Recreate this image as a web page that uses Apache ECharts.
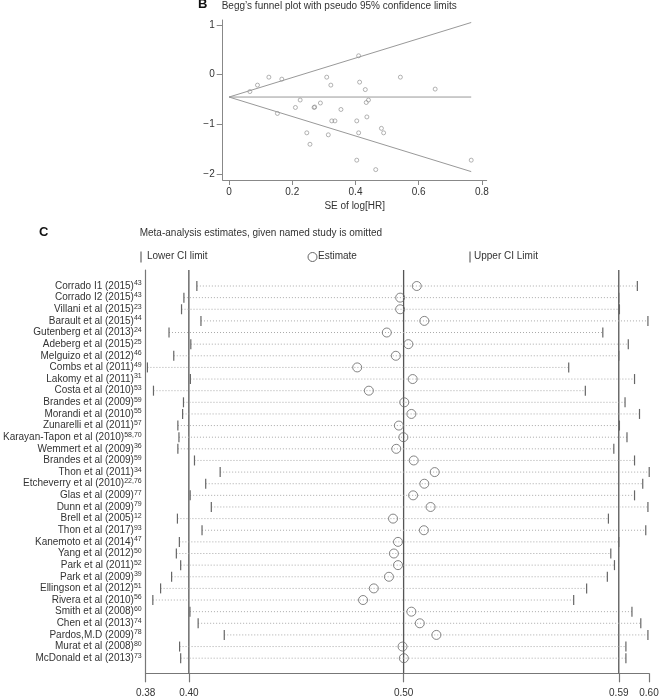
<!DOCTYPE html>
<html><head><meta charset="utf-8">
<script src="https://cdn.jsdelivr.net/npm/echarts@6/dist/echarts.min.js"></script>
<style>html,body{margin:0;padding:0;background:#fff}#c{width:664px;height:699px}</style>
</head><body><div id="c"></div>
<script>
// ---------- Panel B: Begg's funnel plot ----------
const funnelSE = [0.066,0.090,0.126,0.167,0.153,0.210,0.225,0.246,0.256,0.269,0.271,0.289,0.309,0.322,0.314,0.325,0.335,0.354,0.410,0.413,0.431,0.434,0.441,0.436,0.404,0.410,0.482,0.489,0.404,0.464,0.542,0.652,0.766];
const funnelLogHR = [-0.34,-0.21,-0.05,-0.09,-0.78,-0.66,-0.51,-1.17,-1.40,-0.66,-0.65,-0.57,-0.05,-0.21,-1.21,-0.93,-0.93,-0.70,0.38,-0.15,-0.30,-0.56,-0.51,-0.85,-0.93,-1.17,-1.08,-1.17,-1.72,-1.91,-0.05,-0.29,-1.72];
const funnelLimitSE = [0, 0.766];
const funnelPooled = [-0.45, -0.45];
const funnelUpper = [-0.45, 1.05];
const funnelLower = [-0.45, -1.95];
const bXTicks = [0, 0.2, 0.4, 0.6, 0.8];
const bYTicks = [-2, -1, 0, 1];

// ---------- Panel C: influence analysis ----------
const studies = ["Corrado I1 (2015)","Corrado I2 (2015)","Villani et al (2015)","Barault et al (2015)","Gutenberg et al (2013)","Adeberg et al (2015)","Melguizo et al (2012)","Combs et al (2011)","Lakomy et al (2011)","Costa et al (2010)","Brandes et al (2009)","Morandi et al (2010)","Zunarelli et al (2011)","Karayan-Tapon et al (2010)","Wemmert et al (2009)","Brandes et al (2009)","Thon et al (2011)","Etcheverry et al (2010)","Glas et al (2009)","Dunn et al (2009)","Brell et al (2005)","Thon et al (2017)","Kanemoto et al (2014)","Yang et al (2012)","Park et al (2011)","Park et al (2009)","Ellingson et al (2012)","Rivera et al (2010)","Smith et al (2008)","Chen et al (2013)","Pardos,M.D (2009)","Murat et al (2008)","McDonald et al (2013)"];
const refs = ["43","43","23","44","24","25","46","49","31","53","59","55","57","58,70","36","59","34","22,76","77","79","12","93","47","50","52","39","51","56","60","74","78","80","73"];
const lowerCI = [0.4042,0.3982,0.3971,0.4061,0.3913,0.4014,0.3935,0.3813,0.4012,0.3841,0.3980,0.3976,0.3954,0.3959,0.3954,0.4031,0.4150,0.4083,0.4011,0.4109,0.3952,0.4066,0.3961,0.3947,0.3967,0.3925,0.3874,0.3838,0.4010,0.4048,0.4169,0.3962,0.3967];
const estimate = [0.5061,0.4984,0.4984,0.5096,0.4922,0.5022,0.4964,0.4785,0.5042,0.4839,0.5003,0.5036,0.4978,0.4999,0.4966,0.5047,0.5144,0.5096,0.5044,0.5125,0.4951,0.5094,0.4974,0.4955,0.4974,0.4932,0.4862,0.4812,0.5036,0.5075,0.5152,0.4995,0.5001];
const upperCI = [0.6083,0.5997,0.6000,0.6132,0.5923,0.6041,0.5997,0.5765,0.6070,0.5842,0.6026,0.6093,0.6000,0.6035,0.5974,0.6070,0.6138,0.6108,0.6070,0.6132,0.5949,0.6122,0.5997,0.5960,0.5977,0.5944,0.5848,0.5788,0.6058,0.6099,0.6132,0.6030,0.6030];
const overallLines = [0.4005, 0.5000, 0.5997];
const cTickValues = [0.3805, 0.4005, 0.5000, 0.5997, 0.6137];
const cTickLabels = ["0.38", "0.40", "0.50", "0.59", "0.60"];

const FONT = "Liberation Sans, Arial, sans-serif";
const TXT = "#333";
const rowIdx = studies.map((_, i) => i);
const yMinC = -1.376, yMaxC = 33.3;

const chart = echarts.init(document.getElementById('c'), null, {renderer: 'canvas'});

const vLines = overallLines.map(v => ({
  type: 'line', xAxisIndex: 1, yAxisIndex: 1, symbol: 'none', silent: true,
  data: [[v, yMinC], [v, yMaxC]],
  lineStyle: {color: '#555', width: 1.3}, z: 2
}));

const LEG_Y = 257;

const option = {
  animation: false,
  backgroundColor: '#fff',
  textStyle: {fontFamily: FONT},
  grid: [
    {left: 222.7, top: 20, width: 264, height: 160},
    {left: 137.3, top: 270, width: 511.7, height: 403.3}
  ],
  xAxis: [
    {type: 'value', gridIndex: 0, min: -0.02, max: 0.815,
     axisLine: {show: true, onZero: false, lineStyle: {color: '#888', width: 1}},
     axisTick: {show: true, length: 5, customValues: bXTicks, lineStyle: {color: '#888'}},
     axisLabel: {customValues: bXTicks, fontSize: 10, color: TXT, margin: 7, fontFamily: FONT,
                 formatter: v => String(Math.round(v * 10) / 10)},
     splitLine: {show: false},
     name: 'SE of log[HR]', nameLocation: 'middle', nameGap: 21,
     nameTextStyle: {fontSize: 10, color: TXT, fontFamily: FONT}},
    {type: 'value', gridIndex: 1, min: cTickValues[0], max: cTickValues[cTickValues.length - 1],
     axisLine: {show: true, onZero: false, lineStyle: {color: '#777', width: 1.2}},
     axisTick: {show: true, length: 9, customValues: cTickValues, lineStyle: {color: '#777', width: 1.2}},
     axisLabel: {customValues: cTickValues, fontSize: 10, color: TXT, margin: 15, fontFamily: FONT,
                 formatter: v => {
                   let best = 0;
                   cTickValues.forEach((t, i) => { if (Math.abs(t - v) < Math.abs(cTickValues[best] - v)) best = i; });
                   return cTickLabels[best];
                 }},
     splitLine: {show: false}}
  ],
  yAxis: [
    {type: 'value', gridIndex: 0, min: -2.119, max: 1.10,
     axisLine: {show: true, onZero: false, lineStyle: {color: '#888', width: 1}},
     axisTick: {show: true, length: 6, customValues: bYTicks, lineStyle: {color: '#888'}},
     axisLabel: {customValues: bYTicks, fontSize: 10, color: TXT, margin: 8, fontFamily: FONT,
                 formatter: v => v < 0 ? '\u2212' + Math.abs(v) : String(v)},
     splitLine: {show: false}},
    {type: 'value', gridIndex: 1, min: yMinC, max: yMaxC, inverse: true,
     axisLine: {show: true, onZero: false, lineStyle: {color: '#777', width: 1.2}},
     axisTick: {show: false},
     axisLabel: {customValues: rowIdx, margin: 4, fontFamily: FONT,
                 formatter: v => { const i = Math.round(v); return '{n|' + studies[i] + '}{s|' + refs[i] + '}'; },
                 rich: {
                   n: {fontSize: 10, color: TXT, lineHeight: 12, fontFamily: FONT},
                   s: {fontSize: 7, color: TXT, lineHeight: 7, verticalAlign: 'top', fontFamily: FONT}
                 }},
     splitLine: {show: false}}
  ],
  graphic: [
    {type: 'text', left: 198, top: -2, style: {text: 'B', font: 'bold 13px ' + FONT, fill: '#111'}},
    {type: 'text', left: 221.7, top: 1.5, style: {text: 'Begg\u2019s funnel plot with pseudo 95% confidence limits', font: '10px ' + FONT, fill: TXT}},
    {type: 'text', left: 39, top: 226, style: {text: 'C', font: 'bold 13px ' + FONT, fill: '#111'}},
    {type: 'text', left: 139.7, top: 228, style: {text: 'Meta-analysis estimates, given named study is omitted', font: '10px ' + FONT, fill: TXT}},
    {type: 'line', shape: {x1: 141, y1: LEG_Y - 5.5, x2: 141, y2: LEG_Y + 5.5}, style: {stroke: '#666', lineWidth: 1.2}},
    {type: 'text', left: 147, top: LEG_Y - 6, style: {text: 'Lower CI limit', font: '10px ' + FONT, fill: TXT}},
    {type: 'circle', shape: {cx: 312.5, cy: LEG_Y, r: 4.5}, style: {stroke: '#666', fill: 'none', lineWidth: 1}},
    {type: 'text', left: 318, top: LEG_Y - 6, style: {text: 'Estimate', font: '10px ' + FONT, fill: TXT}},
    {type: 'line', shape: {x1: 470, y1: LEG_Y - 5.5, x2: 470, y2: LEG_Y + 5.5}, style: {stroke: '#666', lineWidth: 1.2}},
    {type: 'text', left: 474, top: LEG_Y - 6, style: {text: 'Upper CI Limit', font: '10px ' + FONT, fill: TXT}}
  ],
  series: [
    {type: 'line', xAxisIndex: 0, yAxisIndex: 0, symbol: 'none', silent: true,
     data: funnelLimitSE.map((x, i) => [x, funnelUpper[i]]), lineStyle: {color: '#999', width: 1}},
    {type: 'line', xAxisIndex: 0, yAxisIndex: 0, symbol: 'none', silent: true,
     data: funnelLimitSE.map((x, i) => [x, funnelLower[i]]), lineStyle: {color: '#999', width: 1}},
    {type: 'line', xAxisIndex: 0, yAxisIndex: 0, symbol: 'none', silent: true,
     data: funnelLimitSE.map((x, i) => [x, funnelPooled[i]]), lineStyle: {color: '#999', width: 1}},
    {type: 'scatter', xAxisIndex: 0, yAxisIndex: 0, symbol: 'circle', symbolSize: 4,
     data: funnelSE.map((x, i) => [x, funnelLogHR[i]]),
     itemStyle: {color: 'rgba(0,0,0,0)', borderColor: '#888', borderWidth: 0.8}},
    ...vLines,
    {type: 'custom', xAxisIndex: 1, yAxisIndex: 1, silent: true, z: 3,
     data: rowIdx.map(i => [i, lowerCI[i], upperCI[i]]),
     encode: {x: [1, 2], y: 0},
     renderItem: (params, api) => {
       const i = api.value(0);
       const p1 = api.coord([api.value(1), i]);
       const p2 = api.coord([api.value(2), i]);
       return {type: 'group', children: [
         {type: 'line', shape: {x1: p1[0], y1: p1[1], x2: p2[0], y2: p2[1]}, style: {stroke: '#aaa', lineWidth: 1, lineDash: [1, 2]}},
         {type: 'line', shape: {x1: p1[0], y1: p1[1] - 5, x2: p1[0], y2: p1[1] + 5}, style: {stroke: '#666', lineWidth: 1.2}},
         {type: 'line', shape: {x1: p2[0], y1: p2[1] - 5, x2: p2[0], y2: p2[1] + 5}, style: {stroke: '#666', lineWidth: 1.2}}
       ]};
     }},
    {type: 'scatter', xAxisIndex: 1, yAxisIndex: 1, symbol: 'circle', symbolSize: 9, z: 4,
     data: rowIdx.map(i => [estimate[i], i]),
     itemStyle: {color: 'rgba(0,0,0,0)', borderColor: '#666', borderWidth: 1}}
  ]
};
chart.setOption(option);
</script></body></html>
